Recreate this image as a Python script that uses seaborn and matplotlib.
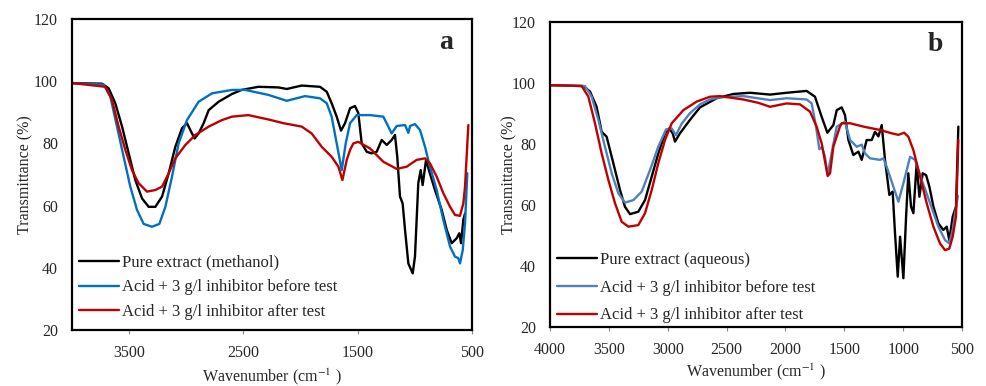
import numpy as np
import pandas as pd
import matplotlib
matplotlib.use("Agg")
import matplotlib.pyplot as plt
import seaborn as sns

# ---------------- data ----------------
# Panel a: methanol extract
a_pure_wn = [4000, 3737, 3679, 3621, 3562, 3504, 3446, 3387, 3329, 3271, 3212, 3154, 3096, 3037, 2994,
             2950, 2927, 2892, 2848, 2804, 2717, 2600, 2515, 2369, 2194, 2121, 1990, 1830, 1771, 1728,
             1684, 1646, 1611, 1567, 1524, 1495, 1465, 1421, 1378, 1334, 1290, 1246, 1203, 1174, 1154,
             1130, 1107, 1086, 1057, 1019, 999, 970, 949, 932, 902, 873, 824, 765, 721, 678, 634, 611,
             596, 576, 561]
a_pure_t = [99.4, 99.2, 97.7, 92.9, 85.4, 76.8, 68.2, 62.3, 59.6, 59.6, 62.9, 70.4, 78.9, 84.9, 86.5,
            83.2, 81.6, 83.2, 86.5, 90.7, 93.4, 95.9, 97.2, 98.2, 98.0, 97.5, 98.6, 98.2, 96.6, 92.9,
            88.6, 84.1, 86.5, 91.3, 92.0, 89.8, 80.0, 77.3, 76.8, 77.3, 81.1, 79.5, 81.1, 82.7, 75.7,
            62.9, 60.7, 52.2, 41.4, 38.2, 43.6, 67.2, 71.4, 66.6, 74.7, 70.9, 65.0, 58.6, 52.2, 47.9, 49.5, 51.1,
            47.9, 55.4, 57.5]

a_before_wn = [4000, 3723, 3665, 3606, 3548, 3490, 3431, 3373, 3300, 3236, 3183, 3125, 3067, 2994, 2892,
               2775, 2600, 2486, 2282, 2121, 1961, 1830, 1771, 1728, 1684, 1640, 1605, 1567, 1509, 1393,
               1276, 1232, 1203, 1159, 1086, 1057, 1042, 999, 955, 911, 868, 809, 751, 692, 649, 620,
               605, 581, 561, 541]
a_before_t = [99.4, 98.9, 95.1, 85.4, 75.7, 66.1, 58.6, 54.1, 53.2, 54.1, 59.6, 69.3, 80.0, 87.5, 93.4,
              96.1, 97.2, 97.2, 95.6, 93.7, 95.2, 94.5, 92.9, 88.6, 80.0, 71.4, 80.0, 86.5, 89.1, 89.1,
              88.6, 85.4, 83.2, 85.6, 85.9, 83.4, 85.6, 86.2, 84.3, 78.9, 72.5, 65.0, 55.4, 46.8, 43.6, 43.1,
              41.4, 45.7, 54.3, 70.4]

a_after_wn = [4000, 3708, 3650, 3592, 3533, 3475, 3417, 3344, 3271, 3212, 3154, 3096, 3008, 2921, 2804,
              2688, 2600, 2457, 2282, 2150, 1990, 1903, 1815, 1728, 1669, 1634, 1596, 1567, 1538, 1495,
              1393, 1276, 1159, 1072, 984, 911, 868, 809, 751, 692, 649, 605, 576, 561, 547, 532]
a_after_t = [99.4, 98.2, 94.0, 85.4, 77.9, 71.4, 67.2, 64.5, 65.0, 66.1, 70.4, 75.2, 79.5, 82.7, 85.4,
             87.5, 88.6, 89.1, 87.7, 86.5, 85.4, 83.2, 78.9, 75.7, 72.5, 68.2, 74.7, 77.9, 80.0, 80.5,
             78.4, 74.1, 71.8, 72.5, 74.7, 75.2, 73.6, 69.3, 64.0, 59.6, 57.0, 56.7, 60.7, 66.1, 75.7, 85.9]

# Panel b: aqueous extract
b_pure_wn = [4000, 3717, 3660, 3604, 3561, 3519, 3462, 3405, 3363, 3320, 3250, 3193, 3136, 3080, 3023,
             2986, 2958, 2938, 2896, 2811, 2726, 2584, 2443, 2301, 2131, 1990, 1820, 1749, 1692, 1644,
             1593, 1564, 1522, 1494, 1465, 1423, 1380, 1352, 1310, 1267, 1239, 1210, 1182, 1154, 1117,
             1089, 1069, 1046, 1026, 998, 975, 956, 933, 913, 885, 862, 834, 805, 777, 743, 701, 659,
             630, 608, 579, 551, 531]
b_pure_t = [99.3, 99.0, 97.2, 92.2, 84.0, 82.4, 73.7, 64.9, 59.4, 57.0, 57.8, 61.6, 69.3, 76.9, 83.5,
            85.1, 83.5, 80.8, 83.5, 87.9, 92.0, 95.0, 96.4, 96.8, 96.2, 96.8, 97.4, 95.5, 88.9, 83.7,
            86.2, 91.1, 92.0, 89.5, 81.3, 76.4, 77.5, 74.8, 81.3, 81.3, 84.0, 82.5, 86.2, 74.8, 63.3,
            64.4, 50.7, 36.5, 49.6, 36.0, 56.2, 70.4, 59.5, 57.3, 73.7, 62.7, 70.4, 69.8, 66.0, 59.5, 54.0, 51.8,
            52.9, 48.5, 56.2, 59.5, 85.7]

b_before_wn = [4000, 3703, 3646, 3589, 3533, 3476, 3419, 3363, 3292, 3221, 3150, 3080, 3014, 2966, 2930,
               2881, 2811, 2726, 2641, 2556, 2358, 2131, 1990, 1820, 1777, 1740, 1712, 1690, 1665, 1641,
               1593, 1564, 1494, 1451, 1394, 1352, 1324, 1281, 1196, 1168, 1140, 1097, 1040, 998, 941,
               899, 842, 771, 701, 644, 608, 579, 545, 535]
b_before_t = [99.3, 99.0, 95.5, 87.9, 79.1, 70.4, 63.8, 60.8, 61.6, 64.4, 71.5, 79.1, 84.8, 85.1, 82.9,
              86.7, 90.1, 93.0, 94.6, 95.3, 95.7, 94.4, 95.0, 94.6, 93.3, 85.7, 78.3, 79.0, 76.0, 70.0,
              80.0, 85.7, 87.3, 81.3, 79.1, 79.8, 76.9, 75.3, 74.8, 75.3, 72.6, 67.6, 61.1, 67.1, 75.8,
              74.8, 68.2, 60.6, 52.9, 48.5, 47.4, 51.8, 60.6, 63.0]

b_after_wn = [4000, 3731, 3674, 3618, 3561, 3504, 3448, 3391, 3334, 3250, 3193, 3136, 3080, 3023, 2966,
              2867, 2754, 2641, 2556, 2358, 2230, 2131, 1990, 1876, 1791, 1735, 1692, 1641, 1621, 1593,
              1537, 1522, 1451, 1338, 1196, 1097, 1040, 992, 956, 913, 856, 800, 743, 687, 644, 608,
              579, 551, 531]
b_after_t = [99.3, 99.0, 95.5, 86.8, 76.9, 68.2, 60.6, 54.5, 52.9, 53.4, 57.3, 64.9, 73.7, 81.3, 86.8,
             91.1, 93.9, 95.5, 95.7, 94.6, 93.5, 92.2, 93.3, 93.0, 90.6, 85.7, 80.2, 69.5, 70.4, 79.1,
             85.7, 86.8, 86.8, 85.7, 84.6, 83.5, 83.0, 83.7, 82.4, 78.0, 69.3, 60.6, 52.9, 47.4, 45.2, 45.7,
             49.6, 56.2, 81.3]

labels_a = ["Pure extract (methanol)", "Acid + 3 g/l inhibitor before test", "Acid + 3 g/l inhibitor after test"]
labels_b = ["Pure extract (aqueous)", "Acid + 3 g/l inhibitor before test", "Acid + 3 g/l inhibitor after test"]
xticks_a = [3500, 2500, 1500, 500]
xticks_b = [4000, 3500, 3000, 2500, 2000, 1500, 1000, 500]
yticks = [20, 40, 60, 80, 100, 120]

# ---------------- style ----------------
sns.set_style("white")
plt.rcParams["font.family"] = ["Liberation Serif", "DejaVu Serif"]
plt.rcParams["mathtext.fontset"] = "stix"

fig = plt.figure(figsize=(9.86, 3.86), dpi=100)
W, H = 986.0, 386.0
ax_a = fig.add_axes([72 / W, 1 - 330 / H, 400 / W, 311 / H])
ax_b = fig.add_axes([550 / W, 1 - 327 / H, 412 / W, 305 / H])


def draw(ax, series, colors, labels, xticks, letter, leg_anchor, leg_spacing, ylpad, xlpad):
    for (wn, t), c, lab in zip(series, colors, labels):
        df = pd.DataFrame({"wn": wn, "T": t})
        sns.lineplot(data=df, x="wn", y="T", ax=ax, color=c, linewidth=1.7,
                     label=lab, sort=False, estimator=None)
    ax.set_xlim(4000, 500)
    ax.set_ylim(20, 120)
    ax.set_xticks(xticks)
    ax.set_yticks(yticks)
    ax.tick_params(axis="y", length=0, pad=10, labelsize=11.5)
    ax.tick_params(axis="x", length=3, width=0.8, color="#888888", direction="out",
                   pad=8, labelsize=11.5, bottom=True)
    for s in ax.spines.values():
        s.set_color("black")
        s.set_linewidth(1.6)
    ax.set_xlabel("Wavenumber (cm$^{-1}$ )", fontsize=11.5, labelpad=xlpad)
    ax.set_ylabel("Transmittance (%)", fontsize=11.5, labelpad=ylpad)
    ax.text(0.935, 0.925, letter, transform=ax.transAxes, fontsize=20,
            fontweight="bold", ha="center", va="center")
    ax.legend(loc="lower left", bbox_to_anchor=leg_anchor, frameon=False, fontsize=12,
              handlelength=2.4, handletextpad=0.2, labelspacing=leg_spacing, borderaxespad=0)


draw(ax_a, [(a_pure_wn, a_pure_t), (a_before_wn, a_before_t), (a_after_wn, a_after_t)],
     ["#000000", "#0070C0", "#C00000"], labels_a, xticks_a, "a", (0.0, 0.01), 0.53, 0.5, 3.5)
draw(ax_b, [(b_pure_wn, b_pure_t), (b_before_wn, b_before_t), (b_after_wn, b_after_t)],
     ["#000000", "#4F81BD", "#C00000"], labels_b, xticks_b, "b", (0.0, -0.01), 0.7, -4, 2.5)

fig.savefig("out.png", dpi=100)
